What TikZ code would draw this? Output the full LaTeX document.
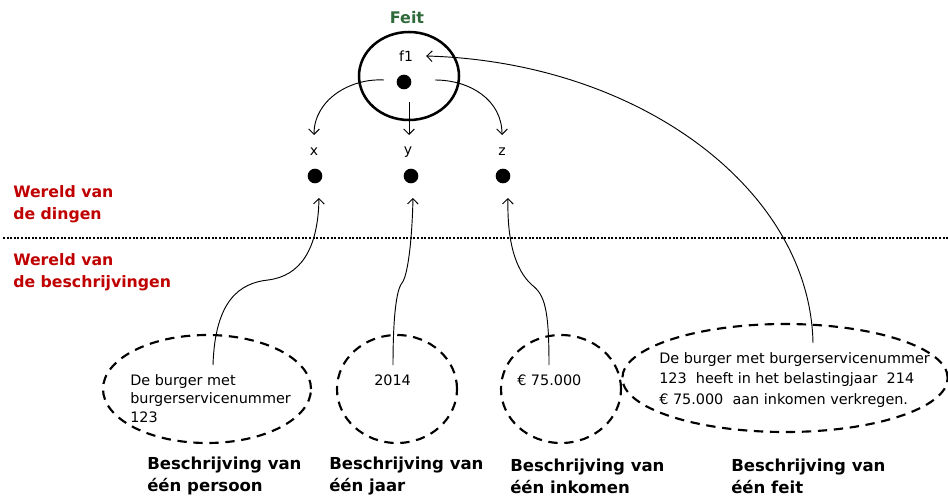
\documentclass[tikz,border=0pt]{standalone}
\usepackage{fontspec}
\setmainfont{DejaVu Sans}
\usetikzlibrary{arrows.meta, positioning, shapes.geometric}
\definecolor{wereldrood}{RGB}{192,0,0}
\definecolor{feitgroen}{RGB}{47,107,58}

\tikzset{
  punt/.style={circle, fill=black, inner sep=0pt, minimum size=11pt},
  tekst/.style={inner sep=0pt, anchor=west, align=left, font=\fontsize{10.8}{13.9}\selectfont},
  wereld/.style={inner sep=0pt, anchor=west, align=left, text=wereldrood, font=\bfseries\fontsize{11.8}{16.5}\selectfont},
  onder/.style={inner sep=0pt, anchor=west, align=left, font=\bfseries\fontsize{12.4}{16.5}\selectfont},
  beschr/.style={draw, ellipse, inner sep=0pt, dash pattern=on 7pt off 5pt, line width=1.6pt},
  pijl/.style={-{Straight Barb[length=4pt,width=8pt]}, line width=0.7pt}
}

\begin{document}
\begin{tikzpicture}[x=0.75pt, y=-0.75pt]
\useasboundingbox (0,0) rectangle (948,496);
% wereld van de dingen
\node[inner sep=0pt, text=feitgroen, font=\bfseries\fontsize{12}{14}\selectfont] (feitlabel) at (407,18) {Feit};
\node[draw, ellipse, inner sep=0pt, line width=1.9pt, minimum width=75pt, minimum height=66pt] (feit) at (409,76) {};
\node[inner sep=0pt, font=\fontsize{10.5}{12}\selectfont] (f1) at (406,56) {f1};
\node[inner sep=0pt, font=\fontsize{10.5}{12}\selectfont] (xl) at (314,152) {x};
\node[inner sep=0pt, font=\fontsize{10.5}{12}\selectfont] (yl) at (408,152) {y};
\node[inner sep=0pt, font=\fontsize{10.5}{12}\selectfont] (zl) at (502,152) {z};
\node[punt] (fdot) at (404,82) {};
\node[punt] (xd) at (315,176) {};
\node[punt] (yd) at (411,176) {};
\node[punt] (zd) at (503,176) {};
\draw[pijl] ([shift={(-20,-2)}]fdot.center) .. controls (350,78) and (314,100) .. ([shift={(0,-17)}]xl.center);
\draw[pijl] ([shift={(5,20)}]fdot.center) -- ([shift={(1,-17)}]yl.center);
\draw[pijl] ([shift={(31,-2)}]fdot.center) .. controls (470,80) and (502,100) .. ([shift={(0,-17)}]zl.center);

\node[wereld] (dingen) at (13,204) {Wereld van\\de dingen};
\draw[line width=2pt, dash pattern=on 1.5pt off 1.2pt] (3,238) -- (948,238);
\node[wereld] (beschrijvingen) at (13,272) {Wereld van\\de beschrijvingen};

% wereld van de beschrijvingen
\node[beschr, minimum width=156pt, minimum height=81pt] (e1) at (207,389) {};
\node[beschr, minimum width=90pt, minimum height=81pt] (e2) at (397,389) {};
\node[beschr, minimum width=90pt, minimum height=81pt] (e3) at (561,389) {};
\node[beschr, minimum width=244pt, minimum height=81pt] (e4) at (785,378) {};
\node[tekst] (t1) at (130,398.5) {De burger met\\burgerservicenummer\\123};
\node[tekst] (t2) at (374,380) {2014};
\node[tekst] (t3) at (517,380) {€ 75.000};
\node[tekst, font=\fontsize{10.8}{15.3}\selectfont] (t4) at (659,380) {De burger met burgerservicenummer\\123\ \ heeft in het belastingjaar\ \ 214\\€ 75.000\ \ aan inkomen verkregen.};

\coordinate (b1) at (213,365);
\coordinate (b2) at (393,365);
\coordinate (b3) at (549,365);
\coordinate (b4) at (813,343);
\draw[pijl] (b1) .. controls (215,300) and (240,283) .. (268,280) .. controls (300,276) and (318,250) .. ([shift={(4,22)}]xd.center);
\draw[pijl] (b2) .. controls (393,320) and (396,290) .. (402,283) .. controls (408,275) and (412,240) .. ([shift={(2,22)}]yd.center);
\draw[pijl] (b3) .. controls (549,310) and (545,295) .. (532,285) .. controls (515,270) and (507,240) .. ([shift={(5,22)}]zd.center);
\draw[pijl] (b4) .. controls (810,190) and (640,62) .. ([shift={(13,0)}]f1.east);

\node[onder] (o1) at (147,476) {Beschrijving van\\één persoon};
\node[onder] (o2) at (329,476) {Beschrijving van\\één jaar};
\node[onder] (o3) at (510,476) {Beschrijving van\\één inkomen};
\node[onder] (o4) at (731,476) {Beschrijving van\\één feit};
\end{tikzpicture}
\end{document}
